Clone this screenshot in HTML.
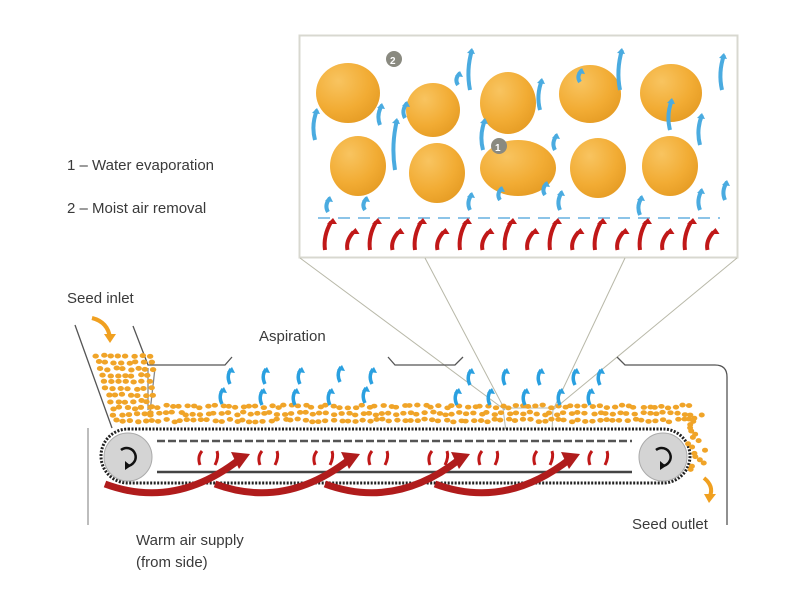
<!DOCTYPE html>
<html><head><meta charset="utf-8"><style>
html,body{margin:0;padding:0;background:#fff;}
svg{display:block}
text{font-family:"Liberation Sans",sans-serif;fill:#3a3a3a;font-size:15px}
</style></head><body>
<svg id="s" width="800" height="600" viewBox="0 0 800 600" xmlns="http://www.w3.org/2000/svg">
<defs>
<radialGradient id="sg" cx="0.35" cy="0.3" r="0.8">
<stop offset="0" stop-color="#f8c460"/><stop offset="0.6" stop-color="#f2ac34"/><stop offset="1" stop-color="#e49a22"/>
</radialGradient>
</defs>
<rect x="299.5" y="35.5" width="438" height="222" fill="#fff" stroke="#d8d8d0" stroke-width="2"/>
<line x1="318" y1="218" x2="720" y2="218" stroke="#8cc4e8" stroke-width="2" stroke-dasharray="12,8"/>
<g id="bigseeds"></g>
<g id="inarrows"></g>
<g id="redin"></g>
<circle cx="394" cy="59" r="8" fill="#8a8a80"/><text x="390" y="64" style="font-size:10px;fill:#fff;font-weight:bold">2</text>
<circle cx="499" cy="146" r="8" fill="#8a8a80"/><text x="495" y="151" style="font-size:10px;fill:#fff;font-weight:bold">1</text>
<g stroke="#b8b8a8" stroke-width="1" fill="none">
<line x1="300" y1="258" x2="505" y2="410"/>
<line x1="425" y1="258" x2="505" y2="410"/>
<line x1="625" y1="258" x2="553" y2="410"/>
<line x1="737" y1="258" x2="553" y2="410"/>
<path d="M503 408 L553 408 L552 432 L506 432 Z"/>
</g>
<text x="67" y="170">1 – Water evaporation</text>
<text x="67" y="213">2 – Moist air removal</text>
<text x="67" y="303">Seed inlet</text>
<text x="259" y="341">Aspiration</text>
<text x="136" y="545">Warm air supply</text>
<text x="136" y="567">(from side)</text>
<text x="632" y="529">Seed outlet</text>
<g stroke="#555" stroke-width="1.3" fill="none">
<line x1="75" y1="325" x2="112" y2="428"/>
<line x1="88" y1="428" x2="88" y2="525" stroke="#999"/>
<path d="M133 326 L148 365 L225 365 L232 357"/>
<path d="M155 368 L150 412" stroke="#888"/>
<path d="M148 368 L148 410" stroke="#888"/>
<path d="M388 357 L395 365 L455 365 L463 357"/>
<path d="M617 357 L625 365 L715 365 Q727 365 727 377 L727 525"/>
</g>
<path d="M92 318 Q108 322 110 338" stroke="#f0a020" stroke-width="4" fill="none"/>
<path d="M104 334 L116 334 L110 343 Z" fill="#f0a020"/>
<path d="M704 478 Q714 486 710 496" stroke="#f0a020" stroke-width="4" fill="none"/>
<path d="M704 494 L716 494 L709 503 Z" fill="#f0a020"/>
<path d="M128 429 L663 429 A27 27 0 0 1 663 483 L128 483 A27 27 0 0 1 128 429 Z" fill="#fff" stroke="#222" stroke-width="3" stroke-dasharray="2,1.5"/>
<line x1="157" y1="441" x2="632" y2="441" stroke="#555" stroke-width="2.5" stroke-dasharray="8,3"/>
<line x1="157" y1="472" x2="632" y2="472" stroke="#444" stroke-width="2.5"/>
<circle cx="128" cy="457" r="24" fill="#d4d4d4" stroke="#aaa"/>
<circle cx="663" cy="457" r="24" fill="#d4d4d4" stroke="#aaa"/>
<g stroke="#111" stroke-width="2.5" fill="none">
<path d="M121 450 A9 9 0 1 1 127 466"/><path d="M656 450 A9 9 0 1 1 662 466"/>
</g>
<path d="M125 461 L131 466 L125 470Z M660 461 L666 466 L660 470Z" fill="#111"/>
<g id="small"></g>
<g id="red"></g>
<g id="asp"></g>
</svg>
<script>
var NS="http://www.w3.org/2000/svg";
function el(p,t,a){var e=document.createElementNS(NS,t);for(var k in a)e.setAttribute(k,a[k]);document.getElementById(p).appendChild(e);return e;}
[[348,93,32,30],[433,110,27,27],[508,103,28,31],[590,94,31,29],[671,93,31,29],[358,166,28,30],[437,173,28,30],[518,168,38,28],[598,168,28,30],[670,166,28,30]].forEach(function(s){
el("bigseeds","ellipse",{cx:s[0],cy:s[1],rx:s[2],ry:s[3],fill:"url(#sg)"});});
function barrow(g,x,y,h,c,w){el(g,"path",{d:"M"+x+" "+y+" q-4 "+(-h/2)+" 2 "+(-h),stroke:c,"stroke-width":w,fill:"none"});
el(g,"path",{d:"M"+(x-3)+" "+(y-h+3)+" l5 -5 l3 6 z",fill:c});}
[[315,140,30],[328,212,14],[395,170,50],[405,118,15],[470,90,40],[470,210,16],[483,150,30],[500,200,12],[540,110,30],[555,150,15],[560,210,18],[620,90,40],[640,215,18],[670,130,30],[700,145,30],[700,210,20],[722,90,35],[725,200,18],[380,125,20],[365,210,12],[580,82,12],[458,85,12],[545,195,12]].forEach(function(a){if(a[2])barrow("inarrows",a[0],a[1],a[2],"#4aabe0",4);});
for(var i=0;i<18;i++){var x=325+i*22.5,h=(i%2?18:28);el("redin","path",{d:"M"+x+" 250 q-2 -"+(h/2)+" 6 -"+h,stroke:"#c01818","stroke-width":4,fill:"none"});el("redin","path",{d:"M"+(x+2)+" "+(252-h)+" l6 -6 l4 6z",fill:"#c01818"});}
var seed=7;function r(){seed=(seed*9301+49297)%233280;return seed/233280;}
for(var x=150;x<690;x+=7){for(var row=0;row<3;row++){el("small","ellipse",{cx:x+r()*4,cy:405+row*7+r()*3,rx:3.2,ry:2.4,fill:"#f0a428"});}}
for(var y=355;y<425;y+=6.5){var x0=95+(y-355)*0.3;for(var x=x0;x<152;x+=7.5){el("small","ellipse",{cx:x+r()*3,cy:y+r()*2,rx:3.2,ry:2.5,fill:"#f0a428"});}}
for(var i=0;i<18;i++){el("small","ellipse",{cx:688+r()*18,cy:415+i*3.2,rx:3,ry:2.5,fill:"#f0a428"});}
[105,215,325,435].forEach(function(x){el("red","path",{d:"M"+x+" 484 Q"+(x+70)+" 510 "+(x+135)+" 459",stroke:"#b01c1c","stroke-width":7,fill:"none"});
el("red","path",{d:"M"+(x+126)+" 452 L"+(x+145)+" 454 L"+(x+134)+" 469 Z",fill:"#b01c1c"});});
[200,215,260,275,315,330,370,385,430,445,480,495,535,550,590,605].forEach(function(x,i){el("red","path",{d:"M"+x+" 465 q"+(i%2?4:-3)+" -8 2 -14",stroke:"#c01818","stroke-width":3,fill:"none"});});
[[230,375],[265,375],[300,375],[340,373],[372,375],[222,395],[262,396],[295,396],[330,396],[365,394],[470,376],[505,376],[540,376],[575,376],[600,376],[457,396],[490,396],[525,396],[560,396],[590,396]].forEach(function(a){
el("asp","path",{d:"M"+a[0]+" "+(a[1]+9)+" q-4 -8 1 -15",stroke:"#2aa0e0","stroke-width":3.5,fill:"none"});el("asp","path",{d:"M"+(a[0]-3)+" "+(a[1]-3)+" l5 -5 l3 6z",fill:"#2aa0e0"});});
</script>
</body></html>
